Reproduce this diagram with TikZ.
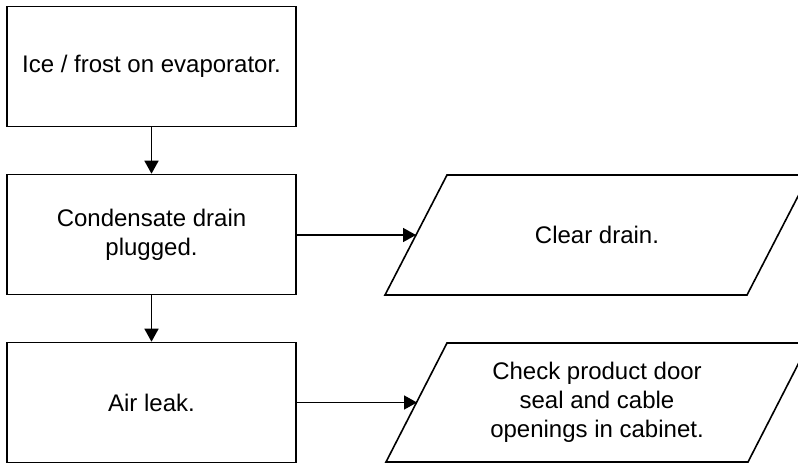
\documentclass[tikz,border=0pt]{standalone}
\usepackage{fontspec}
\setmainfont{Liberation Sans}
\usetikzlibrary{arrows.meta}
\begin{document}
\begin{tikzpicture}[x=1pt,y=-1pt,
  line width=1.6pt,
  box/.style={draw, line width=1.6pt, minimum width=289pt, minimum height=120pt, align=center, inner sep=0pt, font=\fontsize{24}{29}\selectfont},
  txt/.style={align=center, inner sep=0pt, font=\fontsize{24}{29}\selectfont},
  arr/.style={-{Triangle[length=13pt,width=14pt]}, line width=1.6pt}]
\useasboundingbox (0,0) rectangle (798,463);
\clip (0,0) rectangle (798,463);
\node[box] (b1) at (151.5,66.5) {Ice / frost on evaporator.};
\node[box] (b2) at (151.5,234.5) {Condensate drain\\plugged.};
\node[box] (b3) at (151.5,402.5) {Air leak.};
% parallelograms
\draw (447,175) -- (809,175) -- (747,295) -- (385,295) -- cycle;
\draw (447,343) -- (809,343) -- (748,462) -- (386,462) -- cycle;
\coordinate (p1w) at (416,235);
\coordinate (p2w) at (417,402.5);
\node[txt] (p1) at (597,235) {Clear drain.};
\node[txt] (p2) at (597,402.5) {Check product door\\seal and cable\\openings in cabinet.};
\draw[arr] (b1.south) -- (b2.north);
\draw[arr] (b2.south) -- (b3.north);
\draw[arr] (b2.east |- p1w) -- (p1w);
\draw[arr] (b3.east |- p2w) -- (p2w);
\end{tikzpicture}
\end{document}
